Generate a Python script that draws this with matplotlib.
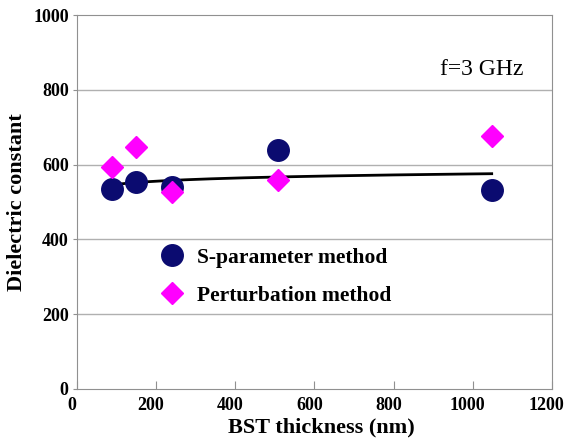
import matplotlib
matplotlib.use('Agg')
import matplotlib.pyplot as plt
import matplotlib.transforms as mtransforms
import numpy as np

plt.rcParams['font.family'] = ['Liberation Serif', 'DejaVu Serif']

# BST thickness (nm)
thick_s = [89, 149, 240, 509, 1048]
eps_s = [535, 553, 540, 639, 532]       # S-parameter method
thick_p = [89, 149, 240, 509, 1048]
eps_p = [593, 647, 527, 559, 676]       # Perturbation method

fig = plt.figure(figsize=(5.66, 4.46), dpi=100)
ax = fig.add_axes([0.136, 0.128, 0.839, 0.838])

# log trend of the S-parameter data
k, b = np.polyfit(np.log(thick_s), eps_s, 1)
xf = np.linspace(min(thick_s), max(thick_s), 200)
ax.plot(xf, k * np.log(xf) + b, color='black', lw=2, zorder=2)

ax.plot(thick_s, eps_s, 'o', color='#0b0b70', ms=15.5, ls='none',
        label='S-parameter method', zorder=3)
ax.plot(thick_p, eps_p, 'D', color='#ff00ff', ms=11, ls='none',
        label='Perturbation method', zorder=4)

ax.set_xlim(0, 1200)
ax.set_ylim(0, 1000)
ax.set_xticks(range(0, 1201, 200))
ax.set_yticks(range(0, 1001, 200))
for y in (200, 400, 600, 800):
    ax.axhline(y, color='#b0b0b0', lw=1, zorder=1)
for s in ax.spines.values():
    s.set_color('#909090')
ax.tick_params(axis='x', direction='in', length=6, color='#909090',
               labelsize=13, pad=6)
ax.tick_params(axis='y', direction='out', length=3, color='#909090',
               labelsize=13, pad=3)
shift = mtransforms.ScaledTranslation(-0.05, 0, fig.dpi_scale_trans)
for lab in ax.get_xticklabels():
    lab.set_fontweight('bold')
    lab.set_transform(lab.get_transform() + shift)
for lab in ax.get_yticklabels():
    lab.set_fontweight('bold')

ax.set_xlabel('BST thickness (nm)', fontsize=16, fontweight='bold', labelpad=2)
ax.xaxis.label.set_x(0.515)
ax.set_ylabel('Dielectric constant', fontsize=16, fontweight='bold', labelpad=4)

ax.text(0.94, 0.855, 'f=3 GHz', transform=ax.transAxes, fontsize=17,
        ha='right', va='center')

ax.legend(loc='center left', bbox_to_anchor=(0.159, 0.30), frameon=False,
          prop={'weight': 'bold', 'size': 15.5}, labelspacing=0.85,
          handlelength=1.0, handletextpad=0.66, borderaxespad=0)

fig.savefig('out.png', dpi=100)
